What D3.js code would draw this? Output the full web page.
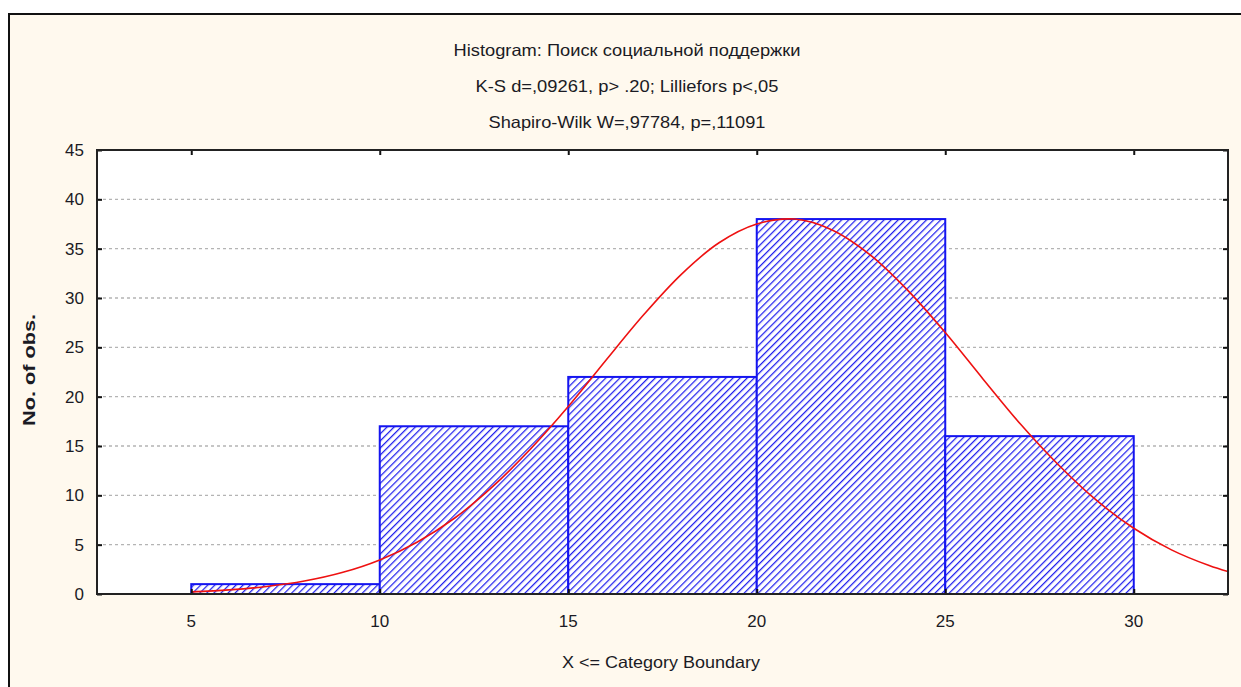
<!DOCTYPE html>
<html><head><meta charset="utf-8">
<script src="https://cdn.jsdelivr.net/npm/d3@7"></script>
<style>body{margin:0;background:#fff}svg{display:block}text{font-family:"Liberation Sans",Arial,sans-serif;fill:#1b1b24}</style>
</head><body><svg id="c" width="1241" height="687"></svg>
<script>
const titleLines = ["Histogram: Поиск социальной поддержки","K-S d=,09261, p> .20; Lilliefors p<,05","Shapiro-Wilk W=,97784, p=,11091"];
const binStarts = [5, 10, 15, 20, 25];
const binEnds = [10, 15, 20, 25, 30];
const counts = [1, 17, 22, 38, 16];
const xTicks = [5, 10, 15, 20, 25, 30];
const yTicks = [0, 5, 10, 15, 20, 25, 30, 35, 40, 45];
const curveX = [5,6,7,8,9,10,11,12,13,14,15,16,17,18,19,20,21,22,23,24,25,26,27,28,29,30,31,32,32.5];
const curveY = [0.22,0.42,0.76,1.31,2.17,3.45,5.27,7.73,10.9,14.7,19.0,23.7,28.3,32.4,35.6,37.5,38.0,36.9,34.4,30.8,26.5,21.8,17.2,13.1,9.53,6.66,4.47,2.88,2.27];
const xLabel = "X <= Category Boundary";
const yLabel = "No. of obs.";

const svg = d3.select("#c");
const L=97,R=1228,T=150,B=594;
const x = d3.scaleLinear().domain([2.5,32.5]).range([L,R]);
const y = d3.scaleLinear().domain([0,45]).range([B,T]);

svg.append("rect").attr("x",9).attr("y",14).attr("width",1240).attr("height",690)
  .attr("fill","#fff9ee").attr("stroke","#111").attr("stroke-width",2);

const defs = svg.append("defs");
const pat = defs.append("pattern").attr("id","hatch").attr("patternUnits","userSpaceOnUse")
  .attr("width",5).attr("height",5).attr("patternTransform","rotate(45)");
pat.append("rect").attr("width",5).attr("height",5).attr("fill","#fff");
pat.append("line").attr("x1",0).attr("y1",0).attr("x2",0).attr("y2",5).attr("stroke","#2020ee").attr("stroke-width",2.5);

svg.append("rect").attr("x",L).attr("y",T).attr("width",R-L).attr("height",B-T).attr("fill","#fff");

// grid
svg.append("g").selectAll("line").data(yTicks.filter(d=>d>0&&d<45)).join("line")
  .attr("x1",L).attr("x2",R).attr("y1",d=>y(d)).attr("y2",d=>y(d))
  .attr("stroke","#b4b4b4").attr("stroke-width",1.3).attr("stroke-dasharray","3,3");

// bars
const bars = counts.map((c,i)=>({a:binStarts[i],b:binEnds[i],c}));
svg.append("g").selectAll("rect").data(bars).join("rect")
  .attr("x",d=>x(d.a)).attr("y",d=>y(d.c)).attr("width",d=>x(d.b)-x(d.a)).attr("height",d=>y(0)-y(d.c))
  .attr("fill","url(#hatch)").attr("stroke","#1414f0").attr("stroke-width",2);

// curve
const pts = curveX.map((v,i)=>[v,curveY[i]]);
svg.append("path").datum(pts).attr("fill","none").attr("stroke","#ee1111").attr("stroke-width",1.6)
  .attr("d",d3.line().x(d=>x(d[0])).y(d=>y(d[1])).curve(d3.curveCatmullRom));

// axes with inward ticks
const axL = svg.append("g").attr("transform",`translate(${L},0)`).call(d3.axisRight(y).tickValues(yTicks).tickSize(5).tickFormat(""));
const axR = svg.append("g").attr("transform",`translate(${R},0)`).call(d3.axisLeft(y).tickValues(yTicks).tickSize(5).tickFormat(""));
const axT = svg.append("g").attr("transform",`translate(0,${T})`).call(d3.axisBottom(x).tickValues(xTicks).tickSize(5).tickFormat(""));
const axB = svg.append("g").attr("transform",`translate(0,${B})`).call(d3.axisTop(x).tickValues(xTicks).tickSize(5).tickFormat(""));
[axL,axR,axT,axB].forEach(g=>{g.select(".domain").remove();g.selectAll("line").attr("stroke","#111").attr("stroke-width",2);});

svg.append("rect").attr("x",L).attr("y",T).attr("width",R-L).attr("height",B-T)
  .attr("fill","none").attr("stroke","#222").attr("stroke-width",2);

// tick labels
svg.append("g").selectAll("text").data(yTicks).join("text")
  .attr("x",84).attr("y",d=>y(d)+6).attr("text-anchor","end").attr("font-size",17).text(d=>d);
svg.append("g").selectAll("text").data(xTicks).join("text")
  .attr("x",d=>x(d)).attr("y",627).attr("text-anchor","middle").attr("font-size",17).text(d=>d);

// titles
const tw=[347,303,277];
svg.append("g").selectAll("text").data(titleLines).join("text")
  .attr("x",627).attr("y",(d,i)=>56+i*36).attr("text-anchor","middle").attr("font-size",16.5)
  .attr("textLength",(d,i)=>tw[i]).attr("lengthAdjust","spacingAndGlyphs").text(d=>d);

svg.append("text").attr("x",661).attr("y",668).attr("text-anchor","middle").attr("font-size",16.5)
  .attr("textLength",198).attr("lengthAdjust","spacingAndGlyphs").text(xLabel);
svg.append("text").attr("transform","translate(35,370) rotate(-90)").attr("text-anchor","middle")
  .attr("font-size",17).attr("font-weight","bold").attr("textLength",112).attr("lengthAdjust","spacingAndGlyphs").text(yLabel);
</script></body></html>
